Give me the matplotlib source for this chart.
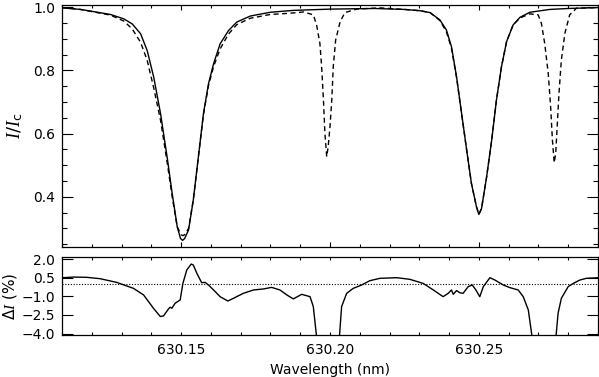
import matplotlib
matplotlib.use("Agg")
import matplotlib.pyplot as plt
from matplotlib.ticker import MultipleLocator, FixedLocator, FuncFormatter

# ---------------- data ----------------
# synthetic profile (solid)
wl_syn = [630.1100, 630.1162, 630.1207, 630.1263, 630.1308, 630.1336, 630.1364,
          630.1386, 630.1408, 630.1431, 630.1453, 630.1470, 630.1487, 630.1498,
          630.1505, 630.1512, 630.1525, 630.1541, 630.1558, 630.1575, 630.1592,
          630.1609, 630.1631, 630.1659, 630.1687, 630.1732, 630.1799, 630.1877,
          630.2000, 630.2150, 630.2250, 630.2302, 630.2336, 630.2369, 630.2391,
          630.2408, 630.2425, 630.2442, 630.2459, 630.2475, 630.2492, 630.2500,
          630.2509, 630.2526, 630.2543, 630.2559, 630.2576, 630.2593, 630.2615,
          630.2638, 630.2671, 630.2738, 630.2800, 630.2903]
I_syn = [0.998, 0.993, 0.986, 0.977, 0.963, 0.947, 0.916,
         0.863, 0.779, 0.663, 0.526, 0.411, 0.305, 0.268,
         0.262, 0.268, 0.295, 0.390, 0.526, 0.663, 0.758,
         0.821, 0.884, 0.926, 0.953, 0.972, 0.984, 0.990,
         0.994, 0.996, 0.993, 0.989, 0.983, 0.960, 0.928,
         0.875, 0.780, 0.664, 0.548, 0.442, 0.368, 0.344,
         0.363, 0.463, 0.579, 0.706, 0.812, 0.891, 0.944,
         0.968, 0.984, 0.993, 0.996, 0.999]

# observed profile (dashed)
wl_obs = [630.1100, 630.1162, 630.1207, 630.1263, 630.1308, 630.1336, 630.1364,
          630.1386, 630.1408, 630.1431, 630.1453, 630.1470, 630.1487, 630.1500,
          630.1506, 630.1512, 630.1525, 630.1541, 630.1558, 630.1575, 630.1592,
          630.1609, 630.1631, 630.1659, 630.1687, 630.1732, 630.1799, 630.1866,
          630.1911, 630.1944, 630.1955, 630.1966, 630.1972, 630.1978, 630.1983,
          630.1989, 630.1994, 630.2000, 630.2006, 630.2011, 630.2019, 630.2034,
          630.2050, 630.2089, 630.2168, 630.2250, 630.2302, 630.2336, 630.2369,
          630.2391, 630.2408, 630.2425, 630.2442, 630.2459, 630.2475, 630.2492,
          630.2500, 630.2509, 630.2526, 630.2543, 630.2559, 630.2576, 630.2593,
          630.2615, 630.2638, 630.2671, 630.2699, 630.2710, 630.2721, 630.2733,
          630.2741, 630.2747, 630.2753, 630.2758, 630.2763, 630.2769, 630.2777,
          630.2789, 630.2805, 630.2828, 630.2903]
I_obs = [0.999, 0.993, 0.985, 0.975, 0.956, 0.931, 0.889,
         0.832, 0.745, 0.642, 0.510, 0.400, 0.305, 0.280,
         0.277, 0.280, 0.300, 0.390, 0.526, 0.660, 0.752,
         0.812, 0.868, 0.915, 0.945, 0.965, 0.977, 0.981,
         0.985, 0.976, 0.944, 0.886, 0.812, 0.706, 0.600,
         0.527, 0.559, 0.622, 0.706, 0.812, 0.896, 0.954,
         0.983, 0.994, 0.998, 0.993, 0.989, 0.983, 0.958,
         0.922, 0.870, 0.778, 0.662, 0.548, 0.442, 0.368,
         0.345, 0.363, 0.463, 0.579, 0.706, 0.812, 0.891,
         0.944, 0.966, 0.979, 0.976, 0.949, 0.886, 0.790,
         0.685, 0.579, 0.508, 0.537, 0.622, 0.727, 0.833,
         0.918, 0.976, 0.997, 0.999]

# relative difference (%)
wl_dI = [630.1102, 630.1139, 630.1183, 630.1228, 630.1284, 630.1340, 630.1374,
         630.1407, 630.1430, 630.1441, 630.1457, 630.1463, 630.1469, 630.1480,
         630.1497, 630.1506, 630.1519, 630.1534, 630.1541, 630.1553, 630.1569,
         630.1581, 630.1592, 630.1609, 630.1631, 630.1657, 630.1676, 630.1709,
         630.1743, 630.1776, 630.1804, 630.1832, 630.1855, 630.1877, 630.1905,
         630.1933, 630.1944, 630.1956, 630.1960, 630.2027, 630.2031, 630.2039,
         630.2056, 630.2078, 630.2106, 630.2134, 630.2168, 630.2224, 630.2268,
         630.2313, 630.2347, 630.2380, 630.2397, 630.2408, 630.2414, 630.2425,
         630.2436, 630.2447, 630.2464, 630.2478, 630.2490, 630.2503, 630.2515,
         630.2537, 630.2554, 630.2582, 630.2604, 630.2632, 630.2649, 630.2666,
         630.2680, 630.2684, 630.2754, 630.2758, 630.2766, 630.2777, 630.2800,
         630.2817, 630.2839, 630.2861, 630.2903]
dI = [0.50, 0.55, 0.53, 0.42, 0.12, -0.36, -0.89,
      -1.96, -2.63, -2.58, -2.04, -1.88, -1.96, -1.56,
      -1.29, 0.04, 1.12, 1.60, 1.52, 0.85, 0.10,
      0.12, -0.09, -0.49, -1.03, -1.38, -1.16, -0.76,
      -0.49, -0.41, -0.28, -0.49, -0.89, -1.21, -0.84,
      -1.03, -1.83, -4.50, -9.00, -9.00, -4.50, -1.83,
      -0.76, -0.36, -0.09, 0.26, 0.45, 0.50, 0.37,
      0.04, -0.49, -1.03, -0.76, -0.49, -0.84, -0.54,
      -0.71, -0.76, -0.22, -0.09, -0.49, -1.03, -0.22,
      0.50, 0.31, -0.09, -0.30, -0.49, -1.03, -2.10,
      -4.50, -9.00, -9.00, -4.50, -2.37, -1.16, -0.22,
      0.04, 0.31, 0.45, 0.50]

xticks = [630.15, 630.20, 630.25]
xtick_labels = ["630.15", "630.20", "630.25"]
yticks_top = [0.4, 0.6, 0.8, 1.0]
yticks_bot = [-4.0, -2.5, -1.0, 0.5, 2.0]

# ---------------- figure ----------------
plt.rcParams['mathtext.fontset'] = 'custom'
plt.rcParams['mathtext.it'] = 'Liberation Serif:italic'
plt.rcParams['mathtext.rm'] = 'DejaVu Sans'
plt.rcParams['font.family'] = ['DejaVu Sans']

fig = plt.figure(figsize=(5.99, 3.77), dpi=100)
ax1 = fig.add_axes([0.1035, 0.3456, 0.8948, 0.6411])
ax2 = fig.add_axes([0.1035, 0.1114, 0.8948, 0.2076])

for ax in (ax1, ax2):
    for s in ax.spines.values():
        s.set_linewidth(0.9)
    ax.set_xlim(630.110, 630.290)

ax1.plot(wl_syn, I_syn, color='black', lw=1.0)
ax1.plot(wl_obs, I_obs, color='black', lw=1.0, dashes=(3.6, 2.5))
ax1.set_ylim(0.242, 1.007)
ax1.xaxis.set_major_locator(FixedLocator(xticks))
ax1.xaxis.set_minor_locator(MultipleLocator(0.01))
ax1.set_xticklabels([])
ax1.yaxis.set_major_locator(FixedLocator(yticks_top))
ax1.yaxis.set_minor_locator(MultipleLocator(0.05))
ax1.yaxis.set_major_formatter(FuncFormatter(lambda v, p: f"{v:.1f}"))
ax1.tick_params(axis='x', which='major', direction='in', top=True, bottom=True, length=3.5, width=0.8)
ax1.tick_params(axis='x', which='minor', direction='in', top=True, bottom=True, length=2.0, width=0.8)
ax1.tick_params(axis='y', which='major', direction='in', left=True, right=True, length=7.7, width=0.8,
                labelsize=10, pad=5)
ax1.tick_params(axis='y', which='minor', direction='in', left=True, right=True, length=3.9, width=0.8)
ax1.set_ylabel(r'$\mathit{I/I}_{\rm c}$', fontsize=13, labelpad=6)

ax2.plot(wl_dI, dI, color='black', lw=1.0)
ax2.axhline(0.0, color='black', lw=0.8, linestyle=(0, (1, 1.5)))
ax2.set_ylim(-4.12, 2.19)
ax2.xaxis.set_major_locator(FixedLocator(xticks))
ax2.xaxis.set_minor_locator(MultipleLocator(0.01))
ax2.set_xticklabels(xtick_labels)
ax2.yaxis.set_major_locator(FixedLocator(yticks_bot))
ax2.yaxis.set_major_formatter(FuncFormatter(lambda v, p: f"{v:.1f}".replace('-', '\u2212')))
ax2.tick_params(axis='x', which='both', direction='in', top=True, bottom=True, length=2.0, width=0.8,
                labelsize=10, pad=6)
ax2.tick_params(axis='y', which='major', direction='in', left=True, right=True, length=7.7, width=0.8,
                labelsize=10, pad=5)
ax2.set_ylabel(r'$\Delta\mathit{I}$ (%)', fontsize=11, labelpad=2)
ax2.set_xlabel('Wavelength (nm)', fontsize=10, labelpad=4)

fig.savefig('out.png', dpi=100)
